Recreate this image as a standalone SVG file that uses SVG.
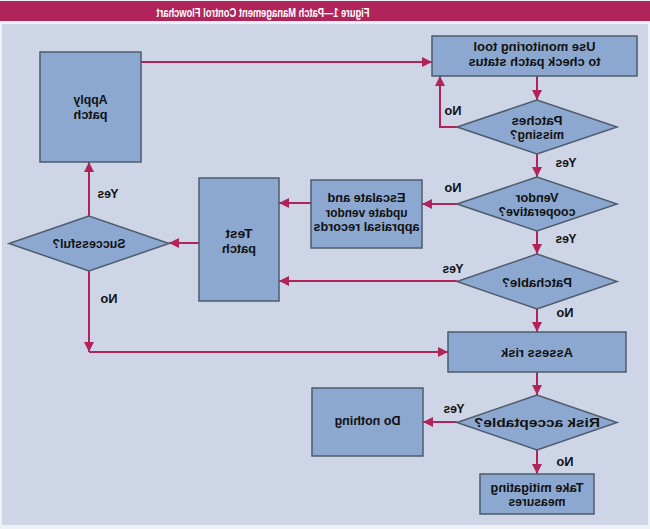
<svg xmlns="http://www.w3.org/2000/svg" width="650" height="529" viewBox="0 0 650 529">
<style>
.node{fill:#8ca8d0;stroke:#4e5c6c;stroke-width:1.5}
.t{font-family:"Liberation Sans",Arial,sans-serif;font-weight:bold;font-size:13px;fill:#111;text-anchor:middle}
.lbl{font-family:"Liberation Sans",Arial,sans-serif;font-weight:bold;font-size:13.5px;fill:#111;text-anchor:middle}
.c{fill:none;stroke:#b0245a;stroke-width:2}
.title{font-family:"Liberation Sans",Arial,sans-serif;font-weight:bold;font-size:13px;fill:#fff;text-anchor:middle}
</style>
<defs>
<marker id="ah" viewBox="0 0 10 10" refX="10" refY="5" markerWidth="10" markerHeight="10" markerUnits="userSpaceOnUse" orient="auto">
<path d="M0,0 L10,5 L0,10 z" fill="#b0245a"/>
</marker>
</defs>
<g transform="matrix(-1 0 0 1 650 0)">
<rect x="0" y="0" width="650" height="529" fill="#eef1f6"/>
<rect x="0" y="1" width="650" height="20" fill="#b0245a"/>
<text class="title" x="387" y="16.5" textLength="213" lengthAdjust="spacingAndGlyphs">Figure 1—Patch Management Control Flowchart</text>
<rect x="2" y="24" width="646" height="501" fill="#cdd5e6"/>

<g id="connectors">
<path class="c" d="M509,62 H218" marker-end="url(#ah)"/>
<path class="c" d="M113,76 V100" marker-end="url(#ah)"/>
<path class="c" d="M193,127 H210 V76" marker-end="url(#ah)"/>
<path class="c" d="M113,154 V177" marker-end="url(#ah)"/>
<path class="c" d="M193,204 H228" marker-end="url(#ah)"/>
<path class="c" d="M113,231 V254" marker-end="url(#ah)"/>
<path class="c" d="M339,203 H371" marker-end="url(#ah)"/>
<path class="c" d="M193,281 H371" marker-end="url(#ah)"/>
<path class="c" d="M451,243 H481" marker-end="url(#ah)"/>
<path class="c" d="M561,216 V162" marker-end="url(#ah)"/>
<path class="c" d="M561,271 V352" marker-end="url(#ah)"/>
<path class="c" d="M561,352 H202" marker-end="url(#ah)"/>
<path class="c" d="M113,309 V332" marker-end="url(#ah)"/>
<path class="c" d="M113,372 V395" marker-end="url(#ah)"/>
<path class="c" d="M193,422 H227" marker-end="url(#ah)"/>
<path class="c" d="M113,450 V474" marker-end="url(#ah)"/>
<text class="lbl" x="197" y="115" textLength="17" lengthAdjust="spacingAndGlyphs">No</text>
<text class="lbl" x="84" y="167" textLength="21" lengthAdjust="spacingAndGlyphs">Yes</text>
<text class="lbl" x="197" y="192" textLength="17" lengthAdjust="spacingAndGlyphs">No</text>
<text class="lbl" x="84" y="243" textLength="21" lengthAdjust="spacingAndGlyphs">Yes</text>
<text class="lbl" x="197" y="273" textLength="21" lengthAdjust="spacingAndGlyphs">Yes</text>
<text class="lbl" x="85" y="317" textLength="17" lengthAdjust="spacingAndGlyphs">No</text>
<text class="lbl" x="196" y="413" textLength="21" lengthAdjust="spacingAndGlyphs">Yes</text>
<text class="lbl" x="85" y="466" textLength="17" lengthAdjust="spacingAndGlyphs">No</text>
<text class="lbl" x="542" y="198" textLength="21" lengthAdjust="spacingAndGlyphs">Yes</text>
<text class="lbl" x="541" y="303" textLength="17" lengthAdjust="spacingAndGlyphs">No</text>
</g>

<g id="monitor">
<rect class="node" x="13" y="36" width="205" height="40"/>
<text class="t" x="115.5" y="51" textLength="122" lengthAdjust="spacingAndGlyphs">Use monitoring tool</text>
<text class="t" x="115.5" y="65.5" textLength="132" lengthAdjust="spacingAndGlyphs">to check patch status</text>
</g>
<g id="apply">
<rect class="node" x="509" y="52" width="101" height="110"/>
<text class="t" x="559.5" y="104" textLength="34" lengthAdjust="spacingAndGlyphs">Apply</text>
<text class="t" x="559.5" y="119" textLength="34" lengthAdjust="spacingAndGlyphs">patch</text>
</g>
<g id="patches-missing">
<polygon class="node" points="113,100 193,127 113,154 33,127"/>
<text class="t" x="113" y="124.5" textLength="51" lengthAdjust="spacingAndGlyphs">Patches</text>
<text class="t" x="113" y="139" textLength="54" lengthAdjust="spacingAndGlyphs">missing?</text>
</g>
<g id="vendor">
<polygon class="node" points="113,177 193,204 113,231 33,204"/>
<text class="t" x="113" y="201.5" textLength="43" lengthAdjust="spacingAndGlyphs">Vendor</text>
<text class="t" x="113" y="216" textLength="77" lengthAdjust="spacingAndGlyphs">cooperative?</text>
</g>
<g id="escalate">
<rect class="node" x="228" y="180" width="111" height="68"/>
<text class="t" x="283.5" y="202" textLength="78" lengthAdjust="spacingAndGlyphs">Escalate and</text>
<text class="t" x="283.5" y="216.5" textLength="82" lengthAdjust="spacingAndGlyphs">update vendor</text>
<text class="t" x="283.5" y="231" textLength="106" lengthAdjust="spacingAndGlyphs">appraisal records</text>
</g>
<g id="test">
<rect class="node" x="371" y="178" width="80" height="123"/>
<text class="t" x="411" y="238" textLength="27" lengthAdjust="spacingAndGlyphs">Test</text>
<text class="t" x="411" y="252.5" textLength="34" lengthAdjust="spacingAndGlyphs">patch</text>
</g>
<g id="successful">
<polygon class="node" points="561,216 641,243.5 561,271 481,243.5"/>
<text class="t" x="561" y="248" textLength="73" lengthAdjust="spacingAndGlyphs">Successful?</text>
</g>
<g id="patchable">
<polygon class="node" points="113,254 193,281.5 113,309 33,281.5"/>
<text class="t" x="113" y="286.5" textLength="70" lengthAdjust="spacingAndGlyphs">Patchable?</text>
</g>
<g id="assess">
<rect class="node" x="24" y="332" width="178" height="40"/>
<text class="t" x="113" y="356.5" textLength="72" lengthAdjust="spacingAndGlyphs">Assess risk</text>
</g>
<g id="risk">
<polygon class="node" points="113,395 193,422.5 113,450 33,422.5"/>
<text class="t" x="113" y="427" textLength="126" lengthAdjust="spacingAndGlyphs">Risk acceptable?</text>
</g>
<g id="nothing">
<rect class="node" x="227" y="388" width="111" height="68"/>
<text class="t" x="282.5" y="425" textLength="66" lengthAdjust="spacingAndGlyphs">Do nothing</text>
</g>
<g id="mitigate">
<rect class="node" x="56" y="474" width="114" height="40"/>
<text class="t" x="113" y="491.5" textLength="93" lengthAdjust="spacingAndGlyphs">Take mitigating</text>
<text class="t" x="113" y="506" textLength="57" lengthAdjust="spacingAndGlyphs">measures</text>
</g>
</g>
</svg>
